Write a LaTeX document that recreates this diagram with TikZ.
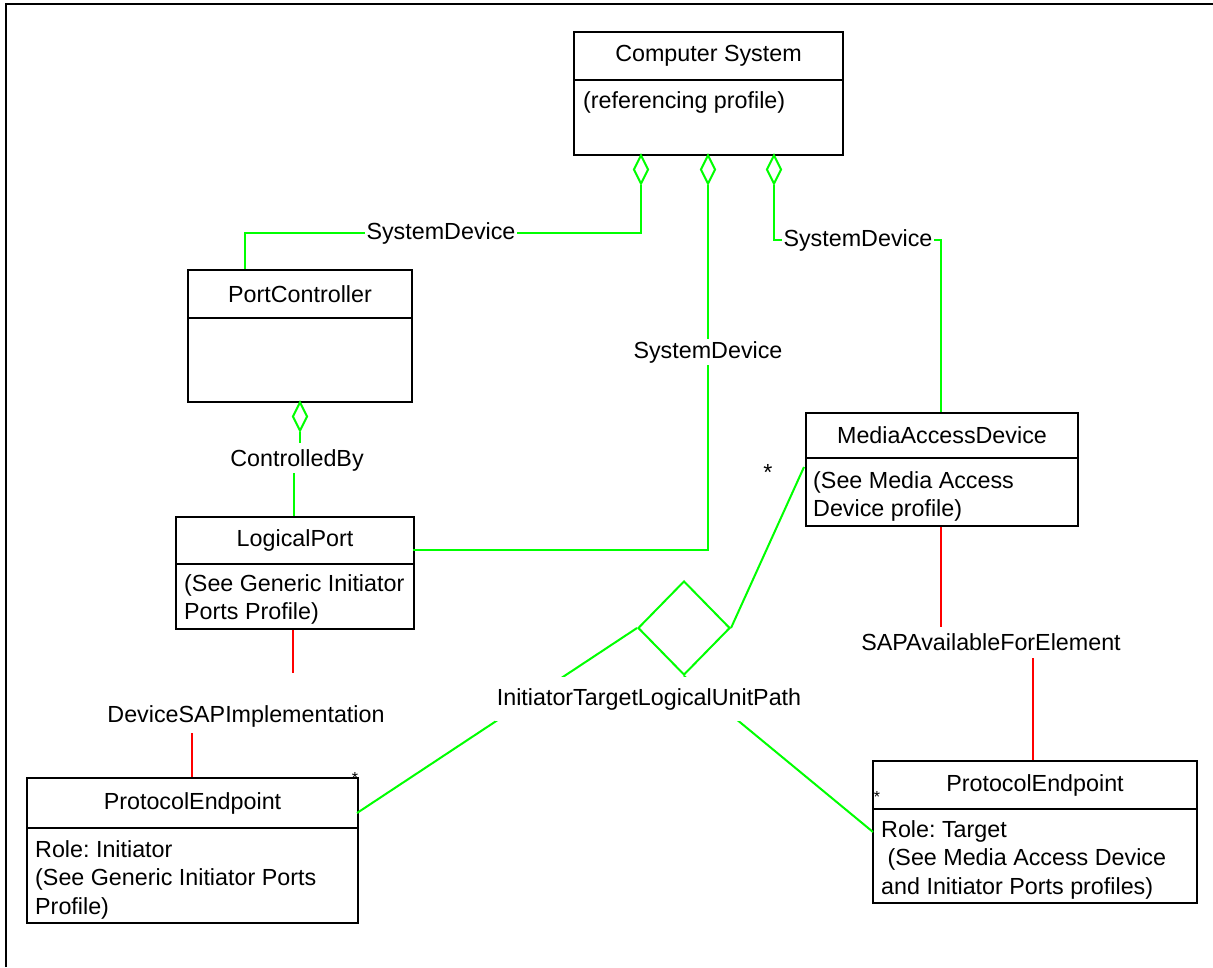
\documentclass[tikz,border=0pt]{standalone}
\usepackage{fontspec}
\setmainfont{Liberation Sans}
\usetikzlibrary{shapes.geometric}
\definecolor{lgreen}{RGB}{0,255,0}
\definecolor{lred}{RGB}{255,0,0}
\frenchspacing
\begin{document}
\begin{tikzpicture}[x=1pt,y=-1pt,
  every node/.style={font=\fontsize{23.3}{28.5}\selectfont},
  hdr/.style={draw, line width=2pt, anchor=north west, inner sep=0pt},
  bdy/.style={draw, line width=2pt, anchor=north west, inner sep=0pt},
  btxt/.style={anchor=north west, align=left, inner sep=0pt},
  assoc/.style={draw=lgreen, line width=2pt},
  sap/.style={draw=lred, line width=2pt},
  agg/.style={diamond, draw=lgreen, line width=2pt, minimum width=15pt, minimum height=29pt, inner sep=0pt, anchor=north},
  lbl/.style={fill=white, inner sep=2pt},
  smallstar/.style={inner sep=0pt, font=\fontsize{16}{16}\selectfont}]
\useasboundingbox (0,0) rectangle (1213,967);
% outer frame
\draw[line width=2pt] (6,967) -- (6,4) -- (1213,4);

% Computer System
\node[hdr, minimum width=269pt, minimum height=48pt] (csh) at (573,31) {Computer System};
\node[bdy, minimum width=269pt, minimum height=75pt] (csb) at (573,79) {};
\node[btxt] (cst) at (583,91) {(referencing profile)};

% PortController
\node[hdr, minimum width=224pt, minimum height=48pt] (pch) at (187,269) {PortController};
\node[bdy, minimum width=224pt, minimum height=84pt] (pcb) at (187,317) {};

% LogicalPort
\node[hdr, minimum width=238pt, minimum height=47pt] (lph) at (175,516) {LogicalPort};
\node[bdy, minimum width=238pt, minimum height=65pt] (lpb) at (175,563) {};
\node[btxt] (lpt) at (184,574) {(See Generic Initiator\\Ports Profile)};

% MediaAccessDevice
\node[hdr, minimum width=272pt, minimum height=45pt] (madh) at (805,412) {MediaAccessDevice};
\node[bdy, minimum width=272pt, minimum height=68pt] (madb) at (805,457) {};
\node[btxt] (madt) at (813,471) {(See Media Access\\Device profile)};

% ProtocolEndpoint (initiator)
\node[hdr, minimum width=331pt, minimum height=50pt] (peh1) at (26,777) {ProtocolEndpoint};
\node[bdy, minimum width=331pt, minimum height=95pt] (peb1) at (26,827) {};
\node[btxt] (pet1) at (35,840) {Role: Initiator\\(See Generic Initiator Ports\\Profile)};

% ProtocolEndpoint (target)
\node[hdr, minimum width=324pt, minimum height=48pt] (peh2) at (872,760) {ProtocolEndpoint};
\node[bdy, minimum width=324pt, minimum height=94pt] (peb2) at (872,808) {};
\node[btxt] (pet2) at (881,820) {Role: Target\\\hspace*{6.5pt}(See Media Access Device\\and Initiator Ports profiles)};

% aggregation diamonds
\node[agg] (d1) at (641,154) {};
\node[agg] (d2) at (708,154) {};
\node[agg] (d3) at (774,154) {};
\node[agg] (d4) at (300,401) {};

% SystemDevice connectors
\coordinate (k1) at (245,233);
\draw[assoc] (d1.south) |- (k1) -- (k1 |- pch.north);
\node[lbl] (sd1) at (441,233) {SystemDevice};
\coordinate (k2) at (413,550);
\draw[assoc] (d2.south) |- (k2);
\node[lbl] (sd2) at (708,352) {SystemDevice};
\coordinate (k3) at (941,240);
\draw[assoc] (d3.south) |- (k3) -- (k3 |- madh.north);
\node[lbl] (sd3) at (858,240) {SystemDevice};

% ControlledBy
\node[inner sep=0pt] (cb) at (297,460) {ControlledBy};
\coordinate (cb1) at (300,443);
\coordinate (cb2) at (294,473);
\draw[assoc] (d4.south) -- (cb1);
\draw[assoc] (cb2) -- (cb2 |- lph.north);

% DeviceSAPImplementation
\node[inner sep=0pt] (dsap) at (246,716) {DeviceSAPImplementation};
\coordinate (r1) at (293,673);
\coordinate (r2) at (192,733);
\draw[sap] (r1 |- lpb.south) -- (r1);
\draw[sap] (r2) -- (r2 |- peh1.north);

% SAPAvailableForElement
\node[inner sep=0pt] (sapa) at (991,642) {SAPAvailableForElement};
\coordinate (r3) at (941,627);
\coordinate (r4) at (1033,658);
\draw[sap] (r3 |- madb.south) -- (r3);
\draw[sap] (r4) -- (r4 |- peh2.north);

% InitiatorTargetLogicalUnitPath
\node[diamond, draw=lgreen, line width=2pt, minimum width=92pt, minimum height=94pt, inner sep=0pt] (itl) at (684,628) {};
\coordinate (e1) at (357,813);
\coordinate (e2) at (873,832);
\coordinate (e3) at (804,467);
\draw[assoc] (itl.west) -- (e1);
\draw[assoc] (itl.south) -- (e2);
\draw[assoc] (itl.east) -- (e3);
\node[fill=white, inner xsep=2pt, inner ysep=11pt] (itlp) at (649,699) {InitiatorTargetLogicalUnitPath};

% multiplicities
\node[inner sep=0pt] (m1) at (768,472) {*};
\node[smallstar] (m2) at (355,778) {*};
\node[smallstar] (m3) at (877,797) {*};
\end{tikzpicture}
\end{document}
